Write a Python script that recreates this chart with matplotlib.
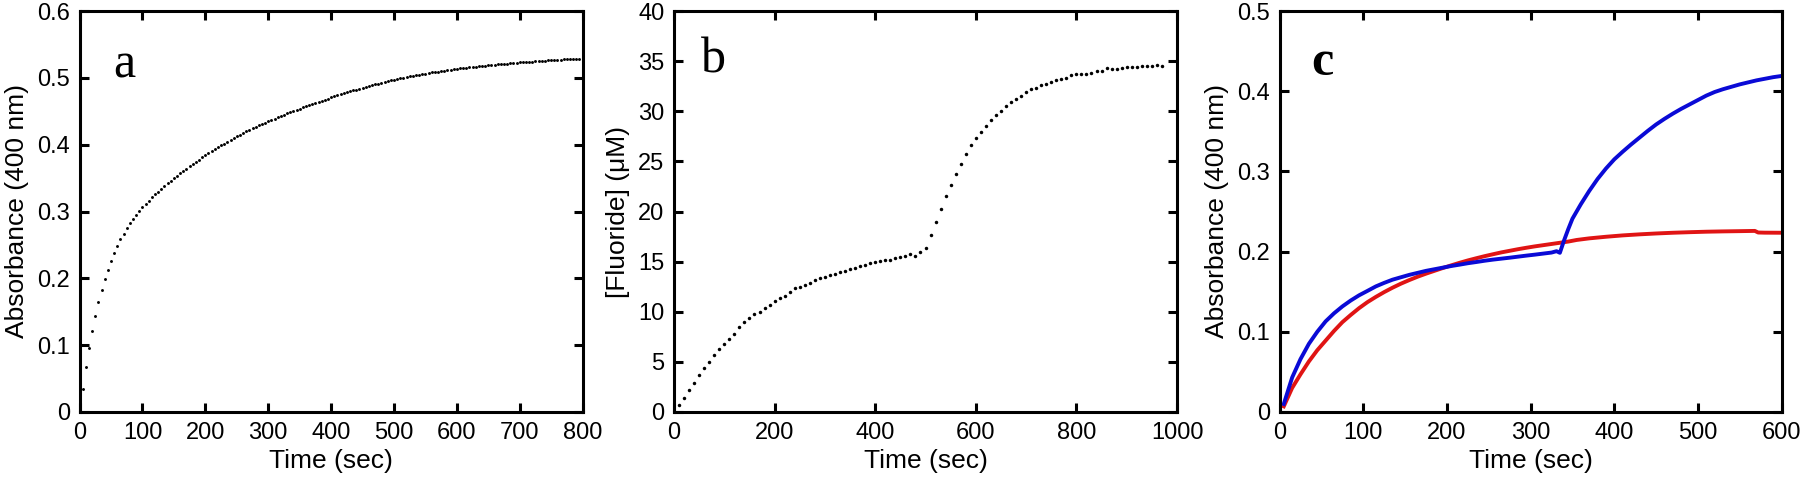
import matplotlib
matplotlib.use("Agg")
import matplotlib.pyplot as plt

plt.rcParams['font.family'] = ['Liberation Sans', 'DejaVu Sans']

# ---------------- data ----------------
# Panel a: absorbance (400 nm) vs time, dots every 5 s
time_a = list(range(5, 805, 5))
abs_a = [
    0.035, 0.0675, 0.0955, 0.1215, 0.144, 0.164, 0.182, 0.199, 0.2125, 0.226,
    0.2375, 0.2485, 0.2585, 0.267, 0.275, 0.2825, 0.2895, 0.2955, 0.3012, 0.3065,
    0.3115, 0.3163, 0.3210, 0.3255, 0.3299, 0.3341, 0.3382, 0.3421, 0.3459, 0.3496,
    0.3533, 0.3569, 0.3605, 0.3640, 0.3675, 0.3709, 0.3743, 0.3776, 0.3808, 0.3840,
    0.3871, 0.3901, 0.3931, 0.3960, 0.3989, 0.4017, 0.4045, 0.4072, 0.4099, 0.4125,
    0.4150, 0.4174, 0.4198, 0.4221, 0.4244, 0.4266, 0.4288, 0.4309, 0.4330, 0.4350,
    0.4370, 0.4390, 0.4410, 0.4429, 0.4448, 0.4467, 0.4485, 0.4503, 0.4521, 0.4539,
    0.4557, 0.4574, 0.4591, 0.4608, 0.4625, 0.4642, 0.4658, 0.4674, 0.4690, 0.4706,
    0.4722, 0.4737, 0.4752, 0.4767, 0.4782, 0.4797, 0.4811, 0.4825, 0.4839, 0.4852,
    0.4865, 0.4878, 0.4891, 0.4903, 0.4915, 0.4927, 0.4939, 0.4950, 0.4961, 0.4972,
    0.4982, 0.4992, 0.5002, 0.5012, 0.5021, 0.5030, 0.5039, 0.5048, 0.5056, 0.5064,
    0.5072, 0.5080, 0.5087, 0.5094, 0.5101, 0.5108, 0.5115, 0.5122, 0.5128, 0.5134,
    0.5140, 0.5146, 0.5152, 0.5157, 0.5163, 0.5168, 0.5173, 0.5178, 0.5183, 0.5188,
    0.5193, 0.5197, 0.5202, 0.5206, 0.5210, 0.5214, 0.5218, 0.5222, 0.5226, 0.5230,
    0.5234, 0.5237, 0.5241, 0.5244, 0.5248, 0.5251, 0.5254, 0.5257, 0.5260, 0.5263,
    0.5266, 0.5269, 0.5272, 0.5275, 0.5277, 0.5280, 0.5282, 0.5285, 0.5287, 0.5290,
]

# Panel b: fluoride concentration (uM) vs time, dots every 10 s
time_b = list(range(10, 980, 10))
fluoride_b = [
    0.74, 1.44, 2.23, 2.93, 3.66, 4.40, 4.96, 5.70, 6.26, 6.82,
    7.32, 7.82, 8.48, 8.95, 9.42, 9.75, 10.02, 10.38, 10.71, 11.04,
    11.38, 11.61, 12.01, 12.34, 12.47, 12.64, 12.84, 13.14, 13.40, 13.51,
    13.71, 13.81, 13.97, 14.11, 14.27, 14.41, 14.54, 14.67, 14.84, 14.97,
    15.07, 15.20, 15.20, 15.37, 15.47, 15.60, 15.75, 15.55, 15.95, 16.40,
    17.64, 18.93, 20.23, 21.53, 22.62, 23.72, 24.72, 25.72, 26.62, 27.31,
    27.94, 28.51, 29.11, 29.58, 30.01, 30.51, 30.91, 31.21, 31.51, 31.90,
    32.24, 32.30, 32.60, 32.74, 32.90, 33.10, 33.20, 33.30, 33.60, 33.70,
    33.70, 33.73, 33.83, 34.00, 34.00, 34.30, 34.17, 34.20, 34.33, 34.43,
    34.43, 34.43, 34.50, 34.53, 34.53, 34.63, 34.53,
]

# Panel c: two absorbance traces
time_c_blue = [5, 15, 25, 35, 45, 55, 65, 75, 85, 95, 105, 115, 125, 135, 145, 155,
               165, 175, 185, 195, 205, 215, 225, 235, 245, 255, 265, 275, 285, 295,
               305, 315, 325, 331, 335, 340, 345, 350, 360, 370, 380, 390, 400, 410,
               420, 430, 440, 450, 460, 470, 480, 490, 500, 510, 520, 530, 540, 550,
               560, 570, 580, 590, 600]
abs_c_blue = [0.010, 0.043, 0.066, 0.085, 0.100, 0.113, 0.123, 0.1316, 0.139, 0.1455,
              0.151, 0.1566, 0.161, 0.165, 0.168, 0.171, 0.1735, 0.176, 0.178, 0.180,
              0.182, 0.1837, 0.1855, 0.187, 0.1886, 0.190, 0.1912, 0.1924, 0.1937, 0.195,
              0.1962, 0.1975, 0.1988, 0.2005, 0.1985, 0.214, 0.228, 0.241, 0.259, 0.2755,
              0.2905, 0.3035, 0.315, 0.3245, 0.3335, 0.342, 0.3505, 0.3585, 0.3655, 0.372,
              0.378, 0.3835, 0.389, 0.3945, 0.399, 0.4025, 0.4055, 0.4085, 0.411, 0.4135,
              0.4155, 0.4175, 0.419]
time_c_red = [5, 15, 25, 35, 45, 55, 65, 75, 85, 95, 105, 115, 125, 135, 145, 155,
              165, 175, 185, 195, 205, 215, 225, 235, 245, 255, 265, 275, 285, 295,
              305, 315, 325, 335, 345, 355, 370, 390, 410, 430, 450, 470, 490, 510,
              530, 550, 568, 572, 580, 600]
abs_c_red = [0.007, 0.030, 0.047, 0.063, 0.077, 0.089, 0.101, 0.112, 0.121, 0.1295,
             0.137, 0.1435, 0.1495, 0.155, 0.160, 0.1645, 0.1687, 0.1725, 0.176, 0.1795,
             0.1828, 0.186, 0.189, 0.1917, 0.1943, 0.1967, 0.199, 0.201, 0.203, 0.2048,
             0.2065, 0.208, 0.2095, 0.211, 0.2125, 0.2145, 0.2165, 0.2185, 0.2202, 0.2215,
             0.2226, 0.2235, 0.2242, 0.2248, 0.2252, 0.2255, 0.2258, 0.2238, 0.2236, 0.2235]

# axis ticks / labels
xticks_a = [0, 100, 200, 300, 400, 500, 600, 700, 800]
yticks_a = [0, 0.1, 0.2, 0.3, 0.4, 0.5, 0.6]
yticklabels_a = ["0", "0.1", "0.2", "0.3", "0.4", "0.5", "0.6"]
xticks_b = [0, 200, 400, 600, 800, 1000]
yticks_b = [0, 5, 10, 15, 20, 25, 30, 35, 40]
xticks_c = [0, 100, 200, 300, 400, 500, 600]
yticks_c = [0, 0.1, 0.2, 0.3, 0.4, 0.5]
yticklabels_c = ["0", "0.1", "0.2", "0.3", "0.4", "0.5"]
panel_letters = ["a", "b", "c"]
xlabel_text = "Time (sec)"
ylabels = ["Absorbance (400 nm)", "[Fluoride] (\u03bcM)", "Absorbance (400 nm)"]

# ---------------- figure ----------------
W, H = 1800, 484
fig = plt.figure(figsize=(W / 100, H / 100), dpi=100)

bottom = (H - 412) / H
height = 401 / H
ax_a = fig.add_axes([79.6 / W, bottom, 503 / W, height])
ax_b = fig.add_axes([674 / W, bottom, 503 / W, height])
ax_c = fig.add_axes([1279.6 / W, bottom, 502 / W, height])

TICK_FS = 17
LABEL_FS = 19

def style(ax):
    for sp in ax.spines.values():
        sp.set_linewidth(2.2)
        sp.set_color("black")
    ax.tick_params(direction="in", length=6.5, width=2.2, top=True, right=True,
                   labelsize=TICK_FS, pad=7, colors="black")
    ax.set_xlabel(xlabel_text, fontsize=LABEL_FS, labelpad=4)

# panel a
ax_a.plot(time_a, abs_a, linestyle="none", marker="o", ms=2.1, color="black",
          markeredgewidth=0, clip_on=False)
ax_a.set_xlim(0, 800)
ax_a.set_ylim(0, 0.6)
ax_a.set_xticks(xticks_a)
ax_a.set_yticks(yticks_a)
ax_a.set_yticklabels(yticklabels_a)
style(ax_a)
ax_a.set_ylabel(ylabels[0], fontsize=LABEL_FS, labelpad=6)

# panel b
ax_b.plot(time_b, fluoride_b, linestyle="none", marker="o", ms=2.5, color="black",
          markeredgewidth=0)
ax_b.set_xlim(0, 1000)
ax_b.set_ylim(0, 40)
ax_b.set_xticks(xticks_b)
ax_b.set_yticks(yticks_b)
style(ax_b)
ax_b.set_ylabel(ylabels[1], fontsize=LABEL_FS, labelpad=6)

# panel c
ax_c.plot(time_c_red, abs_c_red, color="#e01414", lw=2.8, solid_joinstyle="round")
ax_c.plot(time_c_blue, abs_c_blue, color="#0a0ad6", lw=2.8, solid_joinstyle="round")
ax_c.set_xlim(0, 600)
ax_c.set_ylim(0, 0.5)
ax_c.set_xticks(xticks_c)
ax_c.set_yticks(yticks_c)
ax_c.set_yticklabels(yticklabels_c)
style(ax_c)
ax_c.set_ylabel(ylabels[2], fontsize=LABEL_FS, labelpad=6)

# panel letters
letter_pos = [(0.088, 0.865), (0.078, 0.878), (0.086, 0.87)]
for ax, letter, (lx, ly) in zip([ax_a, ax_b, ax_c], panel_letters, letter_pos):
    ax.text(lx, ly, letter, transform=ax.transAxes, ha="center", va="center",
            fontsize=36, family=["Liberation Serif", "DejaVu Serif"],
            fontweight="bold" if letter == "c" else "normal")

fig.savefig("out.png", dpi=100)
